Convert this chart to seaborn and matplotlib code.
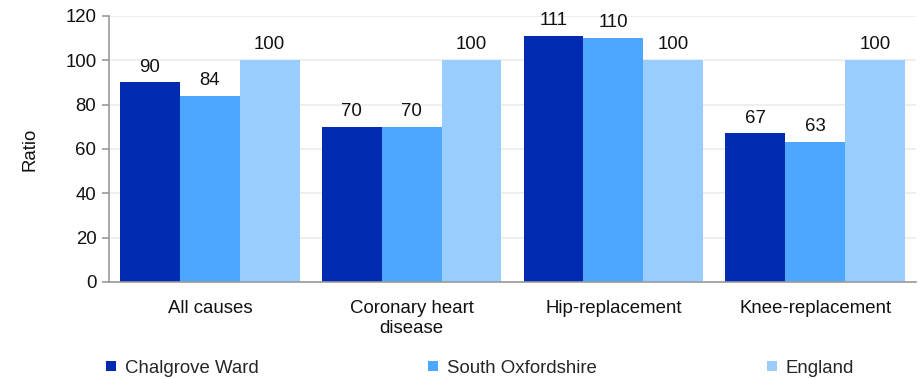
import matplotlib
matplotlib.use('Agg')
import matplotlib.pyplot as plt
import seaborn as sns
import pandas as pd
from matplotlib.lines import Line2D

categories = ['All causes', 'Coronary heart\ndisease', 'Hip-replacement', 'Knee-replacement']
areas = ['Chalgrove Ward', 'South Oxfordshire', 'England']
chalgrove = [90, 70, 111, 67]
south_oxon = [84, 70, 110, 63]
england = [100, 100, 100, 100]
colors = ['#002BB0', '#4DA6FF', '#99CCFF']

rows = []
for area, vals in zip(areas, [chalgrove, south_oxon, england]):
    for cat, v in zip(categories, vals):
        rows.append({'Category': cat, 'Area': area, 'Ratio': v})
df = pd.DataFrame(rows)

sns.set_style('white')
plt.rcParams['font.family'] = ['Liberation Sans', 'DejaVu Sans']
FS = 13.4

fig = plt.figure(figsize=(9.21, 3.79), dpi=100)
ax = fig.add_axes([0.1183, 0.256, 0.8763, 0.7018])

sns.barplot(data=df, x='Category', y='Ratio', hue='Area', palette=colors,
            width=0.89, saturation=1, ax=ax, legend=False, linewidth=0)

for cont in ax.containers:
    ax.bar_label(cont, fmt='%d', padding=5, fontsize=FS, color='#111111')

ax.set_ylim(0, 120)
ax.set_yticks(range(0, 121, 20))
ax.set_xlim(-0.5, len(categories) - 0.5)
ax.yaxis.grid(True, color='#EBEBEB', linewidth=1.2)
ax.set_axisbelow(True)

for s in ['top', 'right']:
    ax.spines[s].set_visible(False)
for s in ['left', 'bottom']:
    ax.spines[s].set_color('#999999')
    ax.spines[s].set_linewidth(1.2)

ax.tick_params(axis='y', left=True, length=5, color='#999999', width=1.2,
               labelsize=FS, labelcolor='#111111', pad=4)
ax.tick_params(axis='x', which='major', length=0, labelsize=FS,
               labelcolor='#111111', pad=13)
ax.set_xticks([i - 0.5 for i in range(len(categories) + 1)], minor=True)
ax.tick_params(axis='x', which='minor', length=6, color='#999999', width=1.2)

ax.set_xlabel('')
ax.set_ylabel('Ratio', fontsize=FS, color='#111111', labelpad=19)

handles = [Line2D([0], [0], marker='s', linestyle='', markersize=7.5,
                  markerfacecolor=c, markeredgewidth=0) for c in colors]
fig.legend(handles, areas, loc='center left', bbox_to_anchor=(0.112, 0.028),
           ncol=3, frameon=False, fontsize=FS, handletextpad=0.35,
           columnspacing=9.0, handlelength=0.8, borderpad=0, borderaxespad=0)

fig.savefig('out.png', dpi=100)
